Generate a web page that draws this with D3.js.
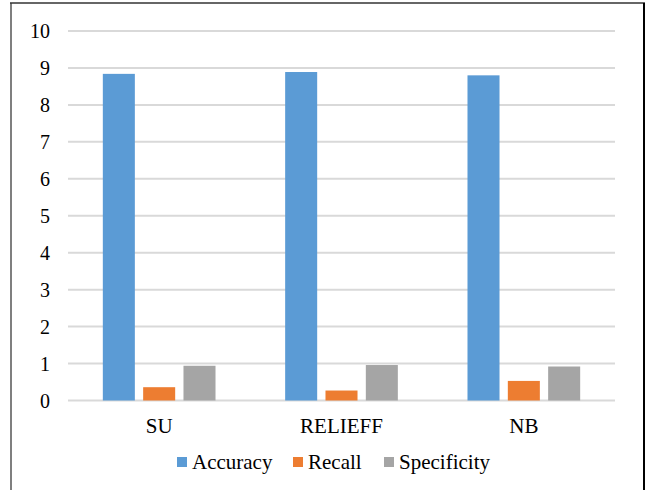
<!DOCTYPE html>
<html>
<head>
<meta charset="utf-8">
<script src="https://cdn.jsdelivr.net/npm/d3@7"></script>
<style>
  body { margin: 0; background: #fff; }
</style>
</head>
<body>
<div id="chart"></div>
<script>
const categories = ['SU', 'RELIEFF', 'NB'];
const seriesNames = ['Accuracy', 'Recall', 'Specificity'];
const accuracy = [8.84, 8.89, 8.80];
const recall = [0.36, 0.27, 0.53];
const specificity = [0.94, 0.96, 0.92];
const yTicks = [0, 1, 2, 3, 4, 5, 6, 7, 8, 9, 10];

const colors = ['#5B9BD5', '#ED7D31', '#A5A5A5'];
const seriesValues = [accuracy, recall, specificity];

const width = 645, height = 490;
const serif = "'Liberation Serif', 'Times New Roman', monospace";

// ============== SVG ==============
const svg = d3.select('#chart')
  .append('svg')
  .attr('width', width)
  .attr('height', height);

// frame
svg.append('line').attr('x1', 11).attr('x2', 11).attr('y1', 3).attr('y2', height)
  .attr('stroke', '#7f7f7f').attr('stroke-width', 2);
svg.append('line').attr('x1', 10).attr('x2', 645).attr('y1', 3).attr('y2', 3)
  .attr('stroke', '#333').attr('stroke-width', 1.5);
svg.append('line').attr('x1', 644).attr('x2', 644).attr('y1', 3).attr('y2', height)
  .attr('stroke', '#000').attr('stroke-width', 2);

// ============== Scales ==============
const x = d3.scaleBand()
  .domain(categories)
  .range([68, 615])
  .paddingInner(0.382)
  .paddingOuter(0.191);

const xInner = d3.scaleBand()
  .domain(seriesNames)
  .range([0, x.bandwidth()])
  .paddingInner(0.206);

const y = d3.scaleLinear()
  .domain([0, 10])
  .range([400.5, 31]);

// ============== Grid ==============
svg.append('g')
  .selectAll('line')
  .data(yTicks)
  .join('line')
    .attr('x1', 68)
    .attr('x2', 615)
    .attr('y1', d => y(d))
    .attr('y2', d => y(d))
    .attr('stroke', '#d9d9d9')
    .attr('stroke-width', 2);

svg.append('g')
  .selectAll('text')
  .data(yTicks)
  .join('text')
    .attr('x', 50)
    .attr('y', d => y(d))
    .attr('dy', '0.35em')
    .attr('text-anchor', 'end')
    .attr('font-family', serif)
    .attr('font-size', 20)
    .text(d => d);

// ============== Bars ==============
const rows = categories.map((c, i) => ({
  cat: c,
  values: seriesNames.map((s, j) => ({ series: s, value: seriesValues[j][i], color: colors[j] }))
}));

svg.append('g')
  .selectAll('g')
  .data(rows)
  .join('g')
    .attr('transform', d => `translate(${x(d.cat)},0)`)
  .selectAll('rect')
  .data(d => d.values)
  .join('rect')
    .attr('x', d => xInner(d.series))
    .attr('y', d => y(d.value))
    .attr('width', xInner.bandwidth())
    .attr('height', d => y(0) - y(d.value))
    .attr('fill', d => d.color);

// ============== Category labels ==============
svg.append('g')
  .selectAll('text')
  .data(categories)
  .join('text')
    .attr('x', d => x(d) + x.bandwidth() / 2)
    .attr('y', 426)
    .attr('dy', '0.35em')
    .attr('text-anchor', 'middle')
    .attr('font-family', serif)
    .attr('font-size', 21)
    .text(d => d);

// ============== Legend ==============
const legendX = [177, 293, 384];
const legend = svg.append('g')
  .selectAll('g')
  .data(seriesNames)
  .join('g')
    .attr('transform', (d, i) => `translate(${legendX[i]},462)`);

legend.append('rect')
  .attr('x', 0)
  .attr('y', -5)
  .attr('width', 10)
  .attr('height', 10)
  .attr('fill', (d, i) => colors[i]);

legend.append('text')
  .attr('x', 15)
  .attr('dy', '0.35em')
  .attr('font-family', serif)
  .attr('font-size', 21)
  .text(d => d);
</script>
</body>
</html>
